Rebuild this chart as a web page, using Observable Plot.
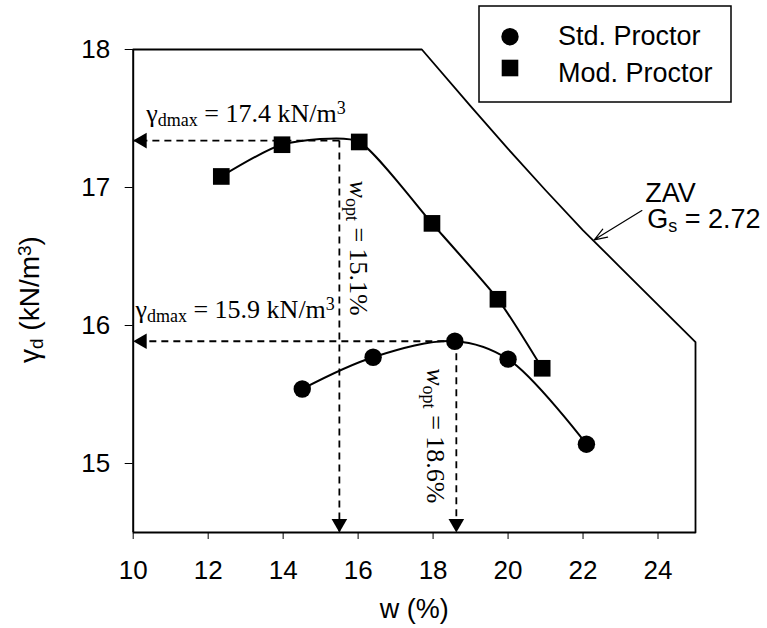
<!DOCTYPE html>
<html><head><meta charset="utf-8">
<script src="https://cdn.jsdelivr.net/npm/d3@7"></script>
<script src="https://cdn.jsdelivr.net/npm/@observablehq/plot@0.6"></script>
<style>
body{margin:0;background:#fff;}
#wrap{position:relative;width:767px;height:628px;}
</style></head><body><div id="wrap"></div>
<script>
// ---- data ----
const wStd = [14.51, 16.40, 18.58, 20.00, 22.09];
const gStd = [15.54, 15.77, 15.886, 15.756, 15.14];
const wMod = [12.35, 13.97, 16.03, 17.97, 19.73, 20.91];
const gMod = [17.08, 17.31, 17.33, 16.74, 16.19, 15.69];
const zavW = [17.7, 19, 20, 21, 22, 23, 24, 25];
const zavG = [18.0, 17.59, 17.28, 16.98, 16.69, 16.42, 16.15, 15.88];
const optW = [15.5, 18.62];
const maxG = [17.34, 15.886];
const xTicks = [10, 12, 14, 16, 18, 20, 22, 24];
const yTicks = [15, 16, 17, 18];
const xDomain = [10, 25];
const yDomain = [14.5, 18];
const seriesNames = ["Std. Proctor", "Mod. Proctor"];
const serifNotes = [
  {key: "A1", x: 10.35, y: 17.473, rot: 0},
  {key: "A2", x: 10.06, y: 16.056, rot: 0},
  {key: "W1", x: 15.795, y: 17.05, rot: 90},
  {key: "W2", x: 17.85, y: 15.69, rot: 90}
];
const sansNotes = [
  {key: "ZAV", x: 23.66, y: 16.895},
  {key: "GS", x: 23.71, y: 16.71}
];
const zavArrow = [{x1: 23.57, y1: 16.833, x2: 22.30, y2: 16.621}];
const rich = {
  A1: [["γ"], ["dmax", "sub"], [" = 17.4 kN/m"], ["3", "sup"]],
  A2: [["γ"], ["dmax", "sub"], [" = 15.9 kN/m"], ["3", "sup"]],
  W1: [["w", "it"], ["opt", "sub"], [" = 15.1%"]],
  W2: [["w", "it"], ["opt", "sub"], [" = 18.6%"]],
  ZAV: [["ZAV"]],
  GS: [["G"], ["s", "sub"], [" = 2.72"]],
  YT: [["γ"], ["d", "sub"], [" (kN/m"], ["3", "sup"], [")"]]
};

// ---- tables built from the arrays ----
const std = wStd.map((w, i) => ({w, g: gStd[i]}));
const mod = wMod.map((w, i) => ({w, g: gMod[i]}));
const frame = [{w: xDomain[0], g: yDomain[1]}]
  .concat(zavW.map((w, i) => ({w, g: zavG[i]})))
  .concat([{w: xDomain[1], g: yDomain[0]}]);
const guides = [];
optW.forEach((w, i) => {
  guides.push({x1: w, y1: maxG[i], x2: xDomain[0], y2: maxG[i]});
  guides.push({x1: w, y1: maxG[i], x2: w, y2: yDomain[0]});
});
const leftHeads = maxG.map(g => ({x: xDomain[0], y: g}));
const downHeads = optW.map(w => ({x: w, y: yDomain[0]}));

const serif = "'Liberation Serif', 'Times New Roman', serif";
const sans = "'Liberation Sans', Arial, sans-serif";

const plot = Plot.plot({
  width: 767, height: 628,
  marginLeft: 132.7, marginRight: 72, marginTop: 49, marginBottom: 96,
  style: {fontFamily: sans, fontSize: "26px", color: "black", background: "white", overflow: "visible"},
  x: {domain: xDomain, ticks: xTicks, tickSize: 7, tickPadding: 21, label: null, tickFormat: d => String(d)},
  y: {domain: yDomain, ticks: yTicks, tickSize: 8, tickPadding: 15, label: null, tickFormat: d => String(d)},
  marks: [
    Plot.line(frame, {x: "w", y: "g", stroke: "black", strokeWidth: 1.8}),
    Plot.ruleX([xDomain[0]], {stroke: "black", strokeWidth: 2}),
    Plot.ruleY([yDomain[0]], {stroke: "black", strokeWidth: 2}),
    Plot.link(guides, {x1: "x1", y1: "y1", x2: "x2", y2: "y2", stroke: "black", strokeWidth: 1.8, strokeDasharray: "7,5"}),
    Plot.dot(leftHeads, {x: "x", y: "y", symbol: "triangle", r: 5.8, fill: "black", rotate: -90, dx: 9}),
    Plot.dot(downHeads, {x: "x", y: "y", symbol: "triangle", r: 5.8, fill: "black", rotate: 180, dy: -9}),
    Plot.line(mod, {x: "w", y: "g", curve: "cardinal", tension: 0.4, stroke: "black", strokeWidth: 2}),
    Plot.line(std, {x: "w", y: "g", curve: "catmull-rom", stroke: "black", strokeWidth: 2}),
    Plot.dot(mod, {x: "w", y: "g", symbol: "square", r: 9.4, fill: "black"}),
    Plot.dot(std, {x: "w", y: "g", symbol: "circle", r: 8.7, fill: "black"}),
    Plot.arrow(zavArrow, {x1: "x1", y1: "y1", x2: "x2", y2: "y2", stroke: "black", strokeWidth: 1.2, headLength: 17, headAngle: 40}),
    Plot.text(serifNotes, {x: "x", y: "y", text: "key", rotate: "rot", textAnchor: "start", lineAnchor: "bottom", fontFamily: serif, fontSize: 26, fill: "black"}),
    Plot.text(sansNotes, {x: "x", y: "y", text: "key", textAnchor: "start", lineAnchor: "bottom", fontFamily: sans, fontSize: 27, fill: "black"}),
    Plot.text(["YT"], {text: d => d, frameAnchor: "left", dx: -103, dy: 72, rotate: -90, textAnchor: "start", lineAnchor: "middle", fontFamily: sans, fontSize: 28, fill: "black"}),
    Plot.text(["w (%)"], {text: d => d, frameAnchor: "bottom", dy: 85, textAnchor: "middle", lineAnchor: "bottom", fontFamily: sans, fontSize: 27, fill: "black"})
  ]
});

// rich text (sub/superscripts)
const NS = "http://www.w3.org/2000/svg";
plot.querySelectorAll("text").forEach(t => {
  const parts = rich[t.textContent];
  if (!parts) return;
  const base = parseFloat(t.getAttribute("font-size") || t.parentNode.getAttribute("font-size") || 26);
  const subSize = Math.round(base * 0.68);
  const subDy = 4, supDy = -8;
  while (t.firstChild) t.removeChild(t.firstChild);
  let cur = 0;
  parts.forEach(([s, kind]) => {
    const ts = document.createElementNS(NS, "tspan");
    ts.textContent = s;
    let target = 0;
    if (kind === "sub") { target = subDy; ts.setAttribute("font-size", subSize); }
    else if (kind === "sup") { target = supDy; ts.setAttribute("font-size", subSize); }
    if (kind === "it") ts.setAttribute("font-style", "italic");
    if (target - cur !== 0) ts.setAttribute("dy", target - cur);
    cur = target;
    t.appendChild(ts);
  });
});

const wrap = document.getElementById("wrap");
wrap.appendChild(plot);

// legend
const leg = d3.create("svg").attr("width", 256).attr("height", 100)
  .style("position", "absolute").style("left", "478px").style("top", "5px");
leg.append("rect").attr("x", 1).attr("y", 1).attr("width", 252).attr("height", 96)
  .attr("fill", "white").attr("stroke", "black").attr("stroke-width", 1.5);
leg.append("circle").attr("cx", 32).attr("cy", 31.7).attr("r", 8.7).attr("fill", "black");
leg.append("rect").attr("x", 32 - 8.3).attr("y", 63 - 8.3).attr("width", 16.6).attr("height", 16.6).attr("fill", "black");
seriesNames.forEach((s, i) => {
  leg.append("text").attr("x", 80).attr("y", i === 0 ? 40 : 76.7)
    .attr("font-family", sans).attr("font-size", 27).attr("fill", "black").text(s);
});
wrap.appendChild(leg.node());
</script></body></html>
